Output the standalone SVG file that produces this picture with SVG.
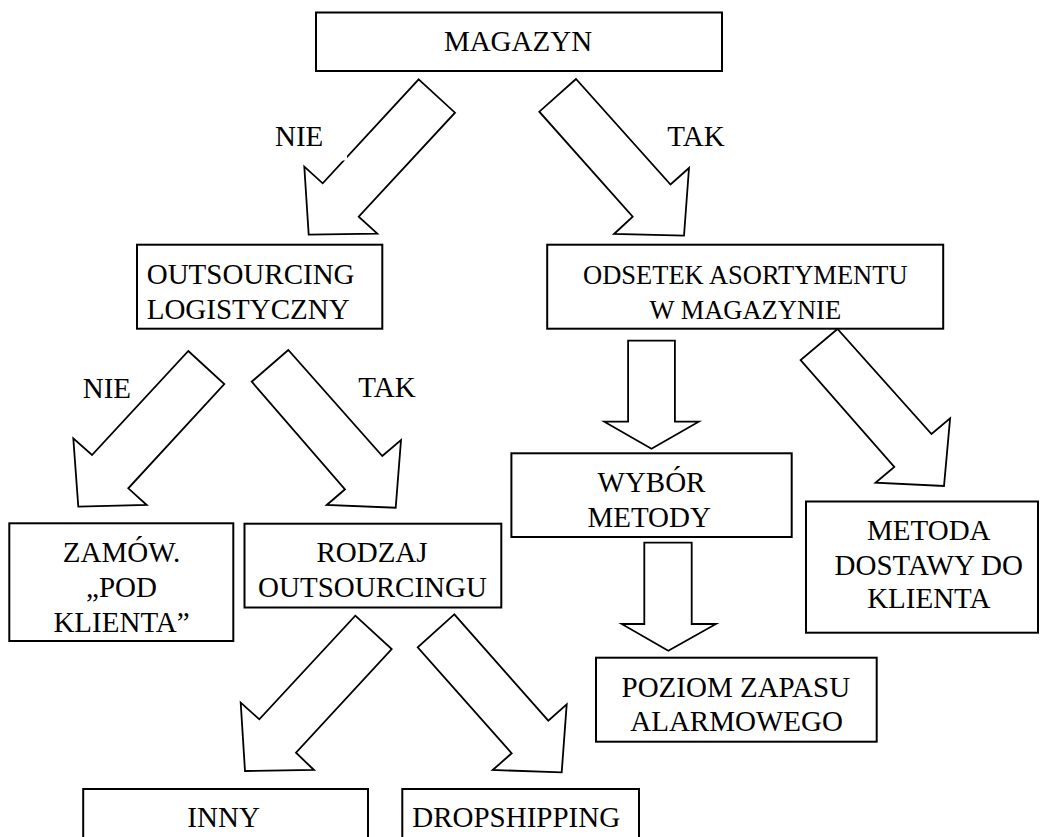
<svg xmlns="http://www.w3.org/2000/svg" width="1040" height="837" viewBox="0 0 1040 837" font-family="'Liberation Serif', 'DejaVu Serif', 'Times New Roman', serif">
<style>
.box{fill:#fff;stroke:#000;stroke-width:2}
.arr{fill:#fff;stroke:#000;stroke-width:1.8;stroke-linejoin:miter}
text{font-family:'Liberation Serif','DejaVu Serif','Times New Roman',serif;font-size:29px;fill:#000}
.c{text-anchor:middle}
.sm{font-size:26.5px}
</style>
<rect width="1040" height="837" fill="#fff"/>
<g id="connectors">
<polygon class="arr" points="418.7,79.3 455,112.7 358.7,216.7 377.3,233.7 308.7,234.7 304.3,166.7 322.7,183.3"/>
<polygon class="arr" points="576,79 539.3,111.7 632.7,216.7 614,234 684,235.7 689,168 670.5,184.5"/>
<polygon class="arr" points="188.3,351 224.3,384 128.3,488.3 146.7,505 78.3,506.7 73.3,438.3 92,455"/>
<polygon class="arr" points="288.3,350 251.7,381.7 345,489.3 326.7,505 395.7,507.7 401,440 382.3,456"/>
<polygon class="arr" points="355.3,615.7 391.7,649 296,752.7 314,770 245,771 240.7,702.7 259.3,719.3"/>
<polygon class="arr" points="454.3,614.3 417.7,647.3 511.7,753.3 492.7,770 561.7,772.3 566.7,704.3 548.3,720.7"/>
<polygon class="arr" points="837.5,329 800.6,360 894.3,467 875.5,482.7 944,486 950.1,418.3 931.5,434"/>
<polygon class="arr" points="628.1,340.7 674.9,340.7 674.9,421.7 698.7,421.7 651.5,448.7 604.3,421.7 628.1,421.7"/>
<polygon class="arr" points="644.3,542.7 691.7,542.7 691.7,624 716,624 668.3,650.7 621.7,624 644.3,624"/>
<rect x="268" y="116" width="79" height="44.5" fill="#fff"/>
<text x="275" y="146">NIE</text>
<text x="667.3" y="146">TAK</text>
<text x="82.7" y="398.3">NIE</text>
<text x="358.3" y="396.5">TAK</text>
</g>
<g id="magazyn">
<rect class="box" x="316" y="12.5" width="406" height="58.5"/>
<text class="c" x="518" y="51">MAGAZYN</text>
</g>
<g id="outsourcing">
<rect class="box" x="137" y="244.7" width="245.3" height="84"/>
<text x="146.7" y="284">OUTSOURCING</text>
<text x="146.7" y="318.7">LOGISTYCZNY</text>
</g>
<g id="odsetek">
<rect class="box" x="547.2" y="244.7" width="396" height="84"/>
<text class="c sm" x="745.3" y="284">ODSETEK ASORTYMENTU</text>
<text class="c sm" x="745.3" y="318.7">W MAGAZYNIE</text>
</g>
<g id="zamow">
<rect class="box" x="9.3" y="523.3" width="224" height="117.7"/>
<text class="c" x="121.5" y="561.7">ZAMÓW.</text>
<text class="c" x="121.5" y="597">„POD</text>
<text class="c" x="121.5" y="631.7">KLIENTA”</text>
</g>
<g id="rodzaj">
<rect class="box" x="244.5" y="523.7" width="256.8" height="83.8"/>
<text class="c" x="372" y="562.3">RODZAJ</text>
<text class="c" x="372.5" y="596.7">OUTSOURCINGU</text>
</g>
<g id="wybor">
<rect class="box" x="511.4" y="453.3" width="280.3" height="83.7"/>
<text class="c" x="651.5" y="491.7">WYBÓR</text>
<text class="c" x="649.2" y="526.7">METODY</text>
</g>
<g id="metoda">
<rect class="box" x="806" y="501.5" width="232" height="131.2"/>
<text class="c" x="928.8" y="540">METODA</text>
<text class="c" x="928.8" y="575">DOSTAWY DO</text>
<text class="c" x="928.8" y="608.3">KLIENTA</text>
</g>
<g id="poziom">
<rect class="box" x="596" y="657.7" width="280.7" height="84"/>
<text class="c" x="735.8" y="696.7">POZIOM ZAPASU</text>
<text class="c" x="736.6" y="730.7">ALARMOWEGO</text>
</g>
<g id="inny">
<rect class="box" x="83.2" y="789" width="284.8" height="70"/>
<text class="c" x="223.6" y="827">INNY</text>
</g>
<g id="dropshipping">
<rect class="box" x="402.3" y="789" width="236.7" height="70"/>
<text class="c" x="516.2" y="827">DROPSHIPPING</text>
</g>
</svg>
